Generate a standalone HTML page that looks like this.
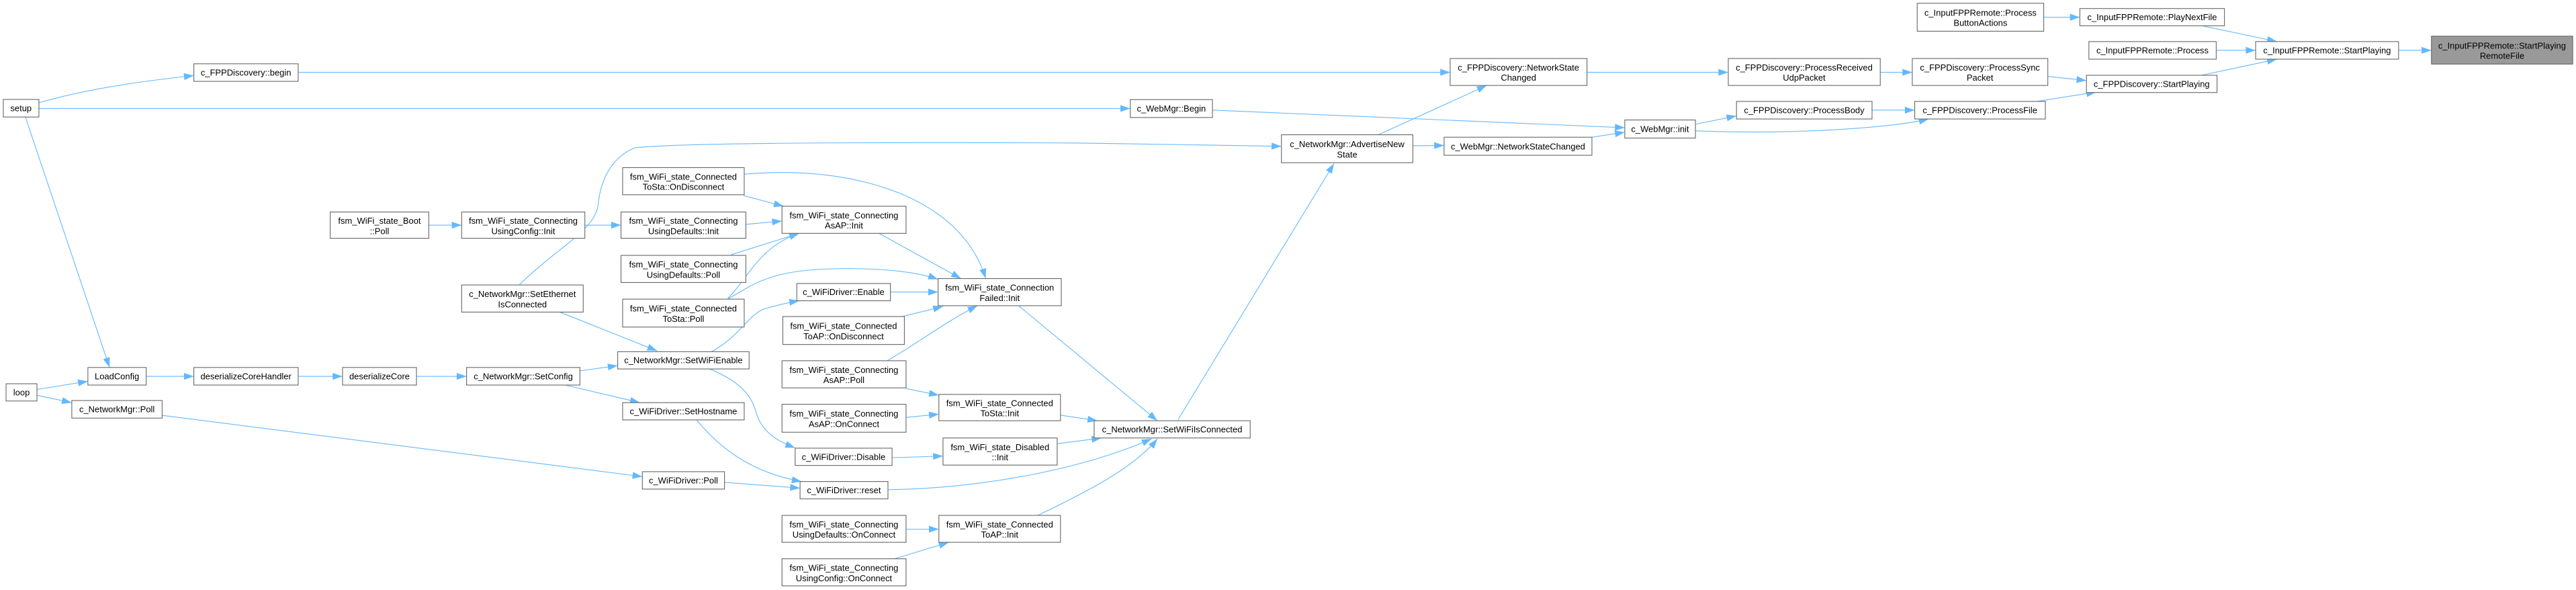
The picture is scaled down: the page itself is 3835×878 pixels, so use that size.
<!DOCTYPE html>
<html><head><meta charset="utf-8"><style>
html,body{margin:0;padding:0;background:#fff;}
svg{display:block;}
text{font-family:"Liberation Sans",Arial,sans-serif;font-size:5.3px;fill:#000;text-anchor:middle;}
.n{fill:#fff;stroke:#666;stroke-width:0.45;}
.h{fill:#999;stroke:#666;stroke-width:0.45;}
.e{fill:none;stroke:#63b8ff;stroke-width:0.45;}
</style></head><body>
<svg width="3835" height="878" viewBox="0 0 1568 359" preserveAspectRatio="none" xmlns="http://www.w3.org/2000/svg">
<defs><marker id="a" markerUnits="userSpaceOnUse" markerWidth="6.5" markerHeight="4.2" viewBox="0 0 10 7" refX="10" refY="3.5" orient="auto"><path d="M0,0 L10,3.5 L0,7 z" fill="#63b8ff"/></marker></defs>
<g marker-end="url(#a)">
<path class="e" d="M1460,30.6 L1480,30.6"/>
<path class="e" d="M1340,15.6 L1386,25.3"/>
<path class="e" d="M1349,30.6 L1373,30.6"/>
<path class="e" d="M1340,45.8 L1386,36"/>
<path class="e" d="M1244,10.5 L1266,10.5"/>
<path class="e" d="M1246.5,46.5 L1270,49"/>
<path class="e" d="M1240,61.7 L1276,56"/>
<path class="e" d="M1144.5,44 L1164,44"/>
<path class="e" d="M966,44 L1052,44"/>
<path class="e" d="M181.5,44 L882.7,44"/>
<path class="e" d="M839,82 L905,52"/>
<path class="e" d="M23.7,62.5 C50,55 80,50 118,46"/>
<path class="e" d="M23.7,66 L688,66"/>
<path class="e" d="M15.5,71.3 L66.7,223.6"/>
<path class="e" d="M738,67 L989,77.7"/>
<path class="e" d="M969,83.5 L989,80.5"/>
<path class="e" d="M1032,75.6 L1057,70.5"/>
<path class="e" d="M1032,79.6 C1090,82 1150,78 1174,72.4"/>
<path class="e" d="M1139.5,67 L1165.5,67"/>
<path class="e" d="M860,88.7 L879,88.5"/>
<path class="e" d="M316,173.4 C340,150 362,140 364,125 C366,105 375,95 386,90 Q420,86 654,87 L780,89"/>
<path class="e" d="M717,255.5 L812,99.5"/>
<path class="e" d="M261,137 L281,137"/>
<path class="e" d="M356,137 L378,137"/>
<path class="e" d="M454,136.5 L476,134.5"/>
<path class="e" d="M452.6,119 L477,125.5"/>
<path class="e" d="M445,155 L486.5,142"/>
<path class="e" d="M443,181.5 C455,170 462,150 486.5,142"/>
<path class="e" d="M535,142 L585,169.5"/>
<path class="e" d="M453,106 C520,100 585,120 600,169.5"/>
<path class="e" d="M443,182 C460,172 470,164 510,163.5 C540,163 560,166 571,170"/>
<path class="e" d="M542,177.7 L571,177.7"/>
<path class="e" d="M549.5,192.5 L574,186.5"/>
<path class="e" d="M540,219.5 C560,208 575,196 595,186"/>
<path class="e" d="M620,186 L704.5,256"/>
<path class="e" d="M341,190 L400,213.5"/>
<path class="e" d="M433,214 C450,205 455,192 465,188 C472,186 480,184 486.5,183"/>
<path class="e" d="M432,224.5 C450,232 457,240 460,250 C463,262 472,268 484,272.5"/>
<path class="e" d="M352.6,225.7 L376,222.5"/>
<path class="e" d="M344,234.3 L389.5,245"/>
<path class="e" d="M253.5,229 L284,229"/>
<path class="e" d="M181.5,229 L208.5,229"/>
<path class="e" d="M89,229 L118,229"/>
<path class="e" d="M22.5,237 L53.5,232"/>
<path class="e" d="M22.5,240.5 L43.7,245"/>
<path class="e" d="M98.5,252.7 L391,290"/>
<path class="e" d="M424,255.5 C440,275 460,288 488,293"/>
<path class="e" d="M441,293.5 L487,297"/>
<path class="e" d="M551.5,236.4 L571.5,240.5"/>
<path class="e" d="M551.5,254 L571.5,252"/>
<path class="e" d="M645.5,252.6 L668,256"/>
<path class="e" d="M543,278.5 L574,277.5"/>
<path class="e" d="M643.5,270 L670.5,266.5"/>
<path class="e" d="M540.5,298 C600,297 660,285 701,267"/>
<path class="e" d="M551.5,322 L571.5,322"/>
<path class="e" d="M544.5,340 L577.5,330"/>
<path class="e" d="M631.7,313.6 C660,300 690,285 704.5,267"/>
</g>
<g>
<rect class="h" x="1480" y="22" width="86" height="17"/><text x="1523" y="29.6">c_InputFPPRemote::StartPlaying</text><text x="1523" y="35.8">RemoteFile</text>
<rect class="n" x="1373" y="25.3" width="87" height="10.7"/><text x="1416.5" y="32.5">c_InputFPPRemote::StartPlaying</text>
<rect class="n" x="1167" y="2" width="77" height="17"/><text x="1205.5" y="9.6">c_InputFPPRemote::Process</text><text x="1205.5" y="15.8">ButtonActions</text>
<rect class="n" x="1266" y="5.2" width="88" height="10.5"/><text x="1310" y="12.3">c_InputFPPRemote::PlayNextFile</text>
<rect class="n" x="1271.5" y="25.3" width="77.5" height="10.7"/><text x="1310.2" y="32.5">c_InputFPPRemote::Process</text>
<rect class="n" x="1270" y="45.8" width="79.5" height="10.5"/><text x="1309.7" y="52.9">c_FPPDiscovery::StartPlaying</text>
<rect class="n" x="1164" y="35.6" width="82.5" height="16.4"/><text x="1205.2" y="42.9">c_FPPDiscovery::ProcessSync</text><text x="1205.2" y="49.1">Packet</text>
<rect class="n" x="1052" y="35.6" width="92.5" height="16.4"/><text x="1098.2" y="42.9">c_FPPDiscovery::ProcessReceived</text><text x="1098.2" y="49.1">UdpPacket</text>
<rect class="n" x="882.7" y="35.6" width="83.3" height="16.4"/><text x="924.3" y="42.9">c_FPPDiscovery::NetworkState</text><text x="924.3" y="49.1">Changed</text>
<rect class="n" x="118" y="38.8" width="63.5" height="10.7"/><text x="149.7" y="46">c_FPPDiscovery::begin</text>
<rect class="n" x="2" y="60.5" width="21.7" height="10.7"/><text x="12.8" y="67.7">setup</text>
<rect class="n" x="688" y="60.6" width="50" height="10.9"/><text x="713" y="67.9">c_WebMgr::Begin</text>
<rect class="n" x="989" y="73" width="43" height="11"/><text x="1010.5" y="80.4">c_WebMgr::init</text>
<rect class="n" x="1057" y="61.7" width="82.5" height="10.7"/><text x="1098.2" y="68.9">c_FPPDiscovery::ProcessBody</text>
<rect class="n" x="1165.5" y="61.7" width="79.5" height="10.7"/><text x="1205.2" y="68.9">c_FPPDiscovery::ProcessFile</text>
<rect class="n" x="780" y="82" width="80" height="17"/><text x="820" y="89.6">c_NetworkMgr::AdvertiseNew</text><text x="820" y="95.8">State</text>
<rect class="n" x="879" y="83.5" width="90" height="11"/><text x="924" y="90.9">c_WebMgr::NetworkStateChanged</text>
<rect class="n" x="379" y="102" width="74" height="16.5"/><text x="416" y="109.4">fsm_WiFi_state_Connected</text><text x="416" y="115.6">ToSta::OnDisconnect</text>
<rect class="n" x="201" y="129" width="60" height="16"/><text x="231" y="136.2">fsm_WiFi_state_Boot</text><text x="231" y="142.4">::Poll</text>
<rect class="n" x="281" y="129" width="75" height="16"/><text x="318.5" y="136.2">fsm_WiFi_state_Connecting</text><text x="318.5" y="142.4">UsingConfig::Init</text>
<rect class="n" x="378" y="129" width="76" height="16"/><text x="416" y="136.2">fsm_WiFi_state_Connecting</text><text x="416" y="142.4">UsingDefaults::Init</text>
<rect class="n" x="476" y="125.5" width="75.5" height="16.5"/><text x="513.7" y="132.9">fsm_WiFi_state_Connecting</text><text x="513.7" y="139.1">AsAP::Init</text>
<rect class="n" x="378" y="155.4" width="76" height="16.5"/><text x="416" y="162.8">fsm_WiFi_state_Connecting</text><text x="416" y="169">UsingDefaults::Poll</text>
<rect class="n" x="281" y="173.4" width="74" height="16.5"/><text x="318" y="180.8">c_NetworkMgr::SetEthernet</text><text x="318" y="187">IsConnected</text>
<rect class="n" x="379" y="182" width="74" height="17"/><text x="416" y="189.6">fsm_WiFi_state_Connected</text><text x="416" y="195.8">ToSta::Poll</text>
<rect class="n" x="485" y="172.5" width="57" height="10.5"/><text x="513.5" y="179.6">c_WiFiDriver::Enable</text>
<rect class="n" x="571" y="169.5" width="75" height="16.5"/><text x="608.5" y="176.9">fsm_WiFi_state_Connection</text><text x="608.5" y="183.1">Failed::Init</text>
<rect class="n" x="476.5" y="192.6" width="74" height="17"/><text x="513.5" y="200.2">fsm_WiFi_state_Connected</text><text x="513.5" y="206.4">ToAP::OnDisconnect</text>
<rect class="n" x="376" y="214" width="80" height="10.5"/><text x="416" y="221.1">c_NetworkMgr::SetWiFiEnable</text>
<rect class="n" x="476" y="219.5" width="75.5" height="16.5"/><text x="513.7" y="226.9">fsm_WiFi_state_Connecting</text><text x="513.7" y="233.1">AsAP::Poll</text>
<rect class="n" x="53.5" y="223.6" width="35.5" height="10.7"/><text x="71.2" y="230.8">LoadConfig</text>
<rect class="n" x="118" y="223.6" width="63.5" height="10.7"/><text x="149.7" y="230.8">deserializeCoreHandler</text>
<rect class="n" x="208.5" y="223.6" width="45" height="10.7"/><text x="231" y="230.8">deserializeCore</text>
<rect class="n" x="284" y="223.6" width="69" height="10.7"/><text x="318.5" y="230.8">c_NetworkMgr::SetConfig</text>
<rect class="n" x="3.7" y="233.5" width="18.8" height="10.5"/><text x="13.1" y="240.6">loop</text>
<rect class="n" x="43.7" y="243.7" width="55" height="10.7"/><text x="71.2" y="250.9">c_NetworkMgr::Poll</text>
<rect class="n" x="379" y="245" width="74" height="10.5"/><text x="416" y="252.1">c_WiFiDriver::SetHostname</text>
<rect class="n" x="476" y="246" width="75.5" height="17"/><text x="513.7" y="253.6">fsm_WiFi_state_Connecting</text><text x="513.7" y="259.8">AsAP::OnConnect</text>
<rect class="n" x="571.5" y="240" width="74" height="16"/><text x="608.5" y="247.2">fsm_WiFi_state_Connected</text><text x="608.5" y="253.4">ToSta::Init</text>
<rect class="n" x="666" y="256" width="95" height="10.5"/><text x="713.5" y="263.1">c_NetworkMgr::SetWiFiIsConnected</text>
<rect class="n" x="484" y="272.7" width="59" height="10.5"/><text x="513.5" y="279.8">c_WiFiDriver::Disable</text>
<rect class="n" x="574" y="266.5" width="69.5" height="16.5"/><text x="608.7" y="273.9">fsm_WiFi_state_Disabled</text><text x="608.7" y="280.1">::Init</text>
<rect class="n" x="391" y="287" width="50" height="10.6"/><text x="416" y="294.2">c_WiFiDriver::Poll</text>
<rect class="n" x="487" y="293" width="53.5" height="10.5"/><text x="513.7" y="300.1">c_WiFiDriver::reset</text>
<rect class="n" x="476" y="313.6" width="75.5" height="16.4"/><text x="513.7" y="320.9">fsm_WiFi_state_Connecting</text><text x="513.7" y="327.1">UsingDefaults::OnConnect</text>
<rect class="n" x="571.5" y="313.6" width="74" height="16.4"/><text x="608.5" y="320.9">fsm_WiFi_state_Connected</text><text x="608.5" y="327.1">ToAP::Init</text>
<rect class="n" x="476" y="340" width="75.5" height="16.5"/><text x="513.7" y="347.4">fsm_WiFi_state_Connecting</text><text x="513.7" y="353.6">UsingConfig::OnConnect</text>
</g>
</svg>
</body></html>
